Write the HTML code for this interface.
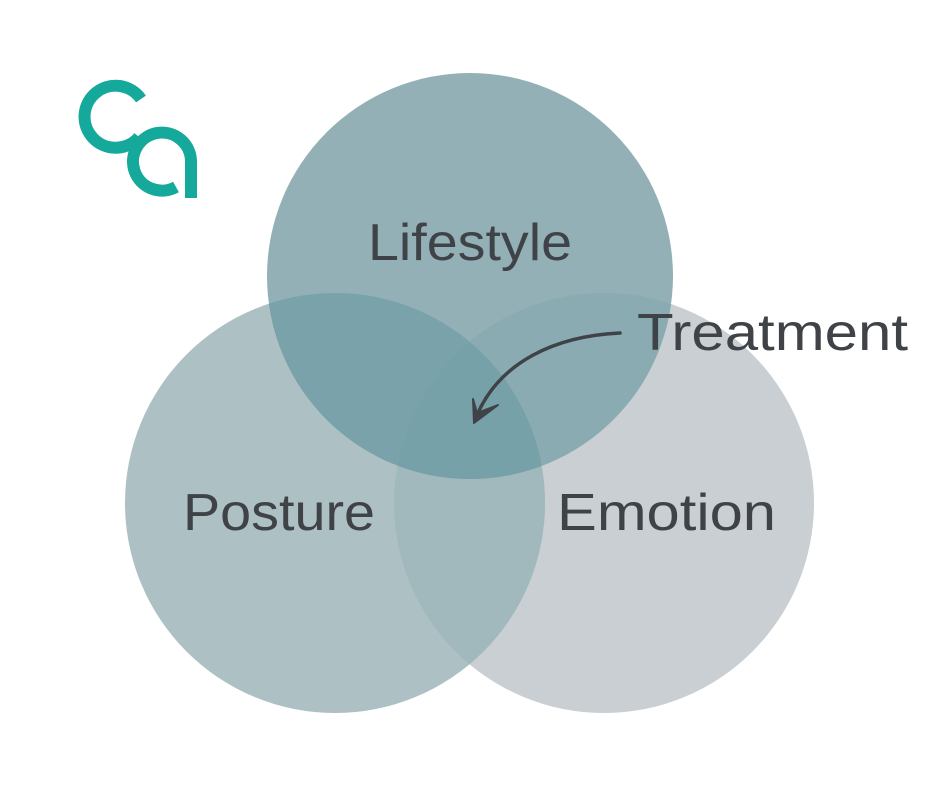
<!DOCTYPE html>
<html><head><style>html,body{margin:0;padding:0;background:#fff}svg{display:block}</style></head>
<body>
<svg width="940" height="788" viewBox="0 0 940 788" xmlns="http://www.w3.org/2000/svg">
<defs>
<clipPath id="cP"><circle cx="335" cy="503" r="210"/></clipPath>
<clipPath id="cE"><circle cx="604" cy="503" r="210"/></clipPath>
</defs>
<circle cx="604" cy="503" r="210" fill="#c9cfd2"/>
<circle cx="335" cy="503" r="210" fill="#adc0c4"/>
<circle cx="335" cy="503" r="210" fill="#a1b9bd" clip-path="url(#cE)"/>
<circle cx="470" cy="276" r="203" fill="#93b0b6"/>
<circle cx="470" cy="276" r="203" fill="#7aa2aa" clip-path="url(#cP)"/>
<circle cx="470" cy="276" r="203" fill="#89abb1" clip-path="url(#cE)"/>
<g clip-path="url(#cP)"><circle cx="470" cy="276" r="203" fill="#77a1a9" clip-path="url(#cE)"/></g>

<path d="M620,333 C555,336 500,362 477,415" fill="none" stroke="#3f4347" stroke-width="3.5" stroke-linecap="round"/>
<path d="M474,423 L473,399 L477,413 L498,405 Z" fill="#3f4347" stroke="#3f4347" stroke-width="2" stroke-linejoin="round"/>

<g fill="none" stroke="#15a99b" stroke-width="12">
<path d="M141,99 A31,31 0 1 0 139,137"/>
<path d="M191,198 L191,162 A29,29 0 1 0 176,187"/>
</g>

<g font-family="Liberation Sans, sans-serif" font-size="52" fill="#3f4347">
<text x="368" y="260" textLength="204" lengthAdjust="spacingAndGlyphs">Lifestyle</text>
<text x="637" y="350" textLength="271" lengthAdjust="spacingAndGlyphs">Treatment</text>
<text x="183" y="530" textLength="192" lengthAdjust="spacingAndGlyphs">Posture</text>
<text x="557" y="530" textLength="219" lengthAdjust="spacingAndGlyphs">Emotion</text>
</g>
</svg>
</body></html>
